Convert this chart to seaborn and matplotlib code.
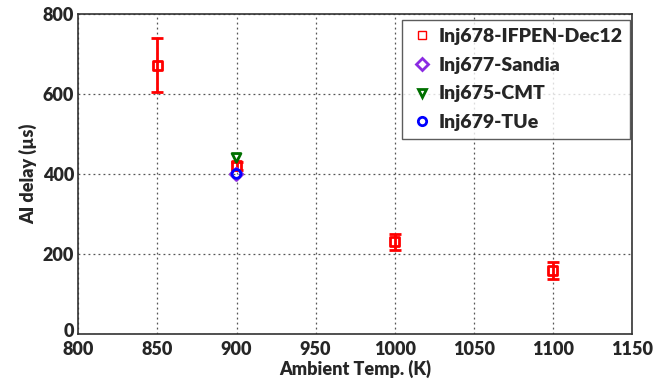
import matplotlib
matplotlib.use("Agg")
import matplotlib.pyplot as plt
import matplotlib.transforms as mtransforms
from matplotlib.lines import Line2D
import seaborn as sns
import pandas as pd

sns.set_theme(style="white")
plt.rcParams['font.family'] = ['Lato', 'DejaVu Sans']

series = ["Inj678-IFPEN-Dec12", "Inj677-Sandia", "Inj675-CMT", "Inj679-TUe"]
ifpen_temp = [850, 900, 1000, 1100]
ifpen_delay = [672, 422, 231, 160]
ifpen_err_lo = [67, 10, 20, 22]
ifpen_err_hi = [68, 10, 19, 21]
sandia_temp = [900]
sandia_delay = [400]
cmt_temp = [900]
cmt_delay = [441]
tue_temp = [900]
tue_delay = [401]

colors = {"Inj678-IFPEN-Dec12": "#ff0000", "Inj677-Sandia": "#8a2be2",
          "Inj675-CMT": "#007000", "Inj679-TUe": "#0000ff"}
markers = {"Inj678-IFPEN-Dec12": "s", "Inj677-Sandia": "D",
           "Inj675-CMT": "v", "Inj679-TUe": "o"}

df = pd.DataFrame({
    "temp": ifpen_temp + sandia_temp + cmt_temp + tue_temp,
    "delay": ifpen_delay + sandia_delay + cmt_delay + tue_delay,
    "series": [series[0]] * len(ifpen_temp) + [series[1]] * len(sandia_temp)
              + [series[2]] * len(cmt_temp) + [series[3]] * len(tue_temp),
})

fig, ax = plt.subplots(figsize=(6.7, 3.81), dpi=100)
fig.subplots_adjust(left=0.117, right=0.943, top=0.962, bottom=0.123)

ax.errorbar(ifpen_temp, ifpen_delay, yerr=[ifpen_err_lo, ifpen_err_hi],
            fmt="none", ecolor="#ff0000", elinewidth=2, capsize=4, capthick=2, zorder=2)

sns.scatterplot(data=df, x="temp", y="delay", hue="series", style="series",
                palette=colors, markers=markers, hue_order=series, style_order=series,
                s=40, linewidth=2, legend=False, ax=ax, zorder=3)
# open markers: edge colours from hue, no face
coll = ax.collections[-1]
ec = coll.get_facecolors()
coll.set_edgecolors(ec)
fc = ec.copy()
fc[:, :] = [1, 1, 1, 0]
coll.set_facecolors(fc)
coll.set_linewidths(2)

ax.set_xlim(800, 1150)
ax.set_ylim(0, 800)
ax.set_xticks(range(800, 1151, 50))
ax.set_yticks(range(0, 801, 200))
ax.grid(True, color="#555555", linestyle=(0, (1.5, 2.5)), linewidth=0.9)
for sp in ax.spines.values():
    sp.set_color("#333333")
    sp.set_linewidth(1.2)
ax.tick_params(axis="both", labelsize=13, length=0)
ax.tick_params(axis="x", pad=5)
ax.tick_params(axis="y", pad=3)
for lbl in ax.get_xticklabels() + ax.get_yticklabels():
    lbl.set_fontweight("heavy")
# lift the "0" y tick label slightly so it sits above the "800" x label
zero_lbl = ax.get_yticklabels()[0]
zero_lbl.set_transform(zero_lbl.get_transform() +
                       mtransforms.ScaledTranslation(0, 3 / 72, fig.dpi_scale_trans))
ax.set_xlabel("Ambient Temp. (K)", fontsize=13, fontweight="heavy", labelpad=1)
ax.set_ylabel("AI delay (µs)", fontsize=13, fontweight="heavy", labelpad=4)

handles = [Line2D([], [], linestyle="none", marker=markers[s], markersize=6,
                  markerfacecolor="none", markeredgecolor=colors[s],
                  markeredgewidth=1.0 if s == series[0] else 2.0, label=s)
           for s in series]
leg = ax.legend(handles=handles, loc="upper right", fontsize=14, frameon=True,
                fancybox=False, edgecolor="#333333", borderpad=0.4,
                handletextpad=0.25, labelspacing=0.6, handlelength=1.2,
                bbox_to_anchor=(0.997, 0.982), borderaxespad=0.0)
leg.get_frame().set_linewidth(1.0)
for t in leg.get_texts():
    t.set_fontweight("heavy")

fig.savefig("out.png", dpi=100)
